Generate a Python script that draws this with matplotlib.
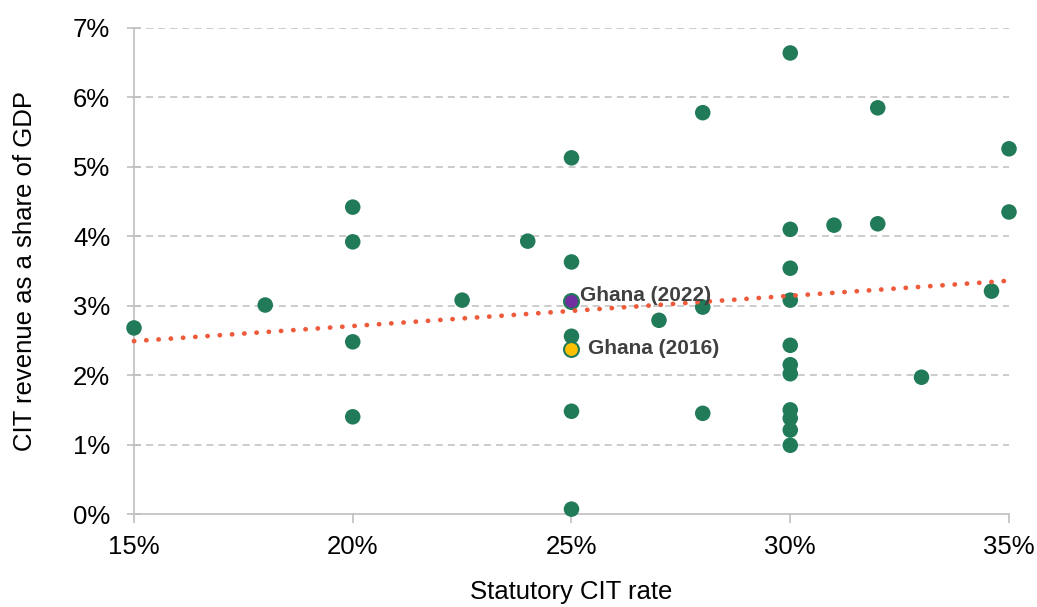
import numpy as np
import matplotlib.pyplot as plt

plt.rcParams['font.family'] = ['Liberation Sans', 'DejaVu Sans']

# ------------------------------------------------------------
# Data: statutory CIT rate (%) vs CIT revenue (% of GDP)
# ------------------------------------------------------------
cit_rate = [15, 18, 20, 20, 20, 20, 22.5, 24, 25, 25, 25, 25, 25,
            27, 28, 28, 28, 30, 30, 30, 30, 30, 30, 30, 30, 30, 30, 30,
            31, 32, 32, 33, 34.6, 35, 35]
cit_revenue = [2.68, 3.01, 4.42, 3.92, 2.48, 1.40, 3.08, 3.93, 5.13, 3.63, 2.56, 1.48, 0.07,
               2.79, 5.78, 2.98, 1.45, 6.64, 4.10, 3.54, 3.08, 2.43, 2.15, 2.02, 1.50, 1.38, 1.21, 0.99,
               4.16, 5.85, 4.18, 1.97, 3.21, 5.26, 4.35]

ghana_2022 = (25, 3.07)
ghana_2016 = (25, 2.38)

# linear trend (end points)
trend_x = [15, 35]
trend_y = [2.49, 3.36]

green = '#217A58'
grid_col = '#BFBFBF'

fig = plt.figure(figsize=(10.37, 6.07), dpi=100)
ax = fig.add_axes([0.1292, 0.1532, 0.8438, 0.8007])

ax.scatter(cit_rate, cit_revenue, s=125, color=green, edgecolors='none', zorder=3, clip_on=False)
ax.scatter([ghana_2022[0]], [ghana_2022[1]], s=115, color='#7030A0',
           edgecolors=green, linewidths=1.5, zorder=3, clip_on=False)
ax.scatter([ghana_2016[0]], [ghana_2016[1]], s=115, color='#FFC000',
           edgecolors=green, linewidths=1.5, zorder=3, clip_on=False)

ax.plot(trend_x, trend_y, color='#EE5A3A', linewidth=3.4,
        linestyle=(0, (0.05, 2.55)), dash_capstyle='round', zorder=4, clip_on=False)

ax.text(25.2, ghana_2022[1] + 0.07, 'Ghana (2022)', fontsize=15, fontweight='bold',
        color='#404040', va='center', ha='left', zorder=5)
ax.text(25.38, ghana_2016[1], 'Ghana (2016)', fontsize=15, fontweight='bold',
        color='#404040', va='center', ha='left', zorder=5)

ax.set_xlim(15, 35)
ax.set_ylim(0, 7)
ax.set_xticks(np.arange(15, 36, 5))
ax.set_yticks(np.arange(0, 8, 1))
ax.set_xticklabels([f'{v}%' for v in range(15, 36, 5)])
ax.set_yticklabels([f'{v}%' for v in range(0, 8)])

for y in range(1, 8):
    ax.axhline(y, color=grid_col, linewidth=1.1, linestyle=(0, (4.6, 3.3)), zorder=1)

for side in ['top', 'right']:
    ax.spines[side].set_visible(False)
for side in ['left', 'bottom']:
    ax.spines[side].set_color(grid_col)
    ax.spines[side].set_linewidth(1.2)

ax.tick_params(axis='y', direction='inout', length=10, width=1.2, color=grid_col,
               labelsize=18.5, pad=12)
ax.tick_params(axis='x', direction='out', length=6.5, width=1.2, color=grid_col,
               labelsize=18.5, pad=8.5)

ax.set_xlabel('Statutory CIT rate', fontsize=18.5, labelpad=15)
ax.set_ylabel('CIT revenue as a share of GDP', fontsize=18.5, labelpad=26)

fig.savefig('out.png', dpi=100)
